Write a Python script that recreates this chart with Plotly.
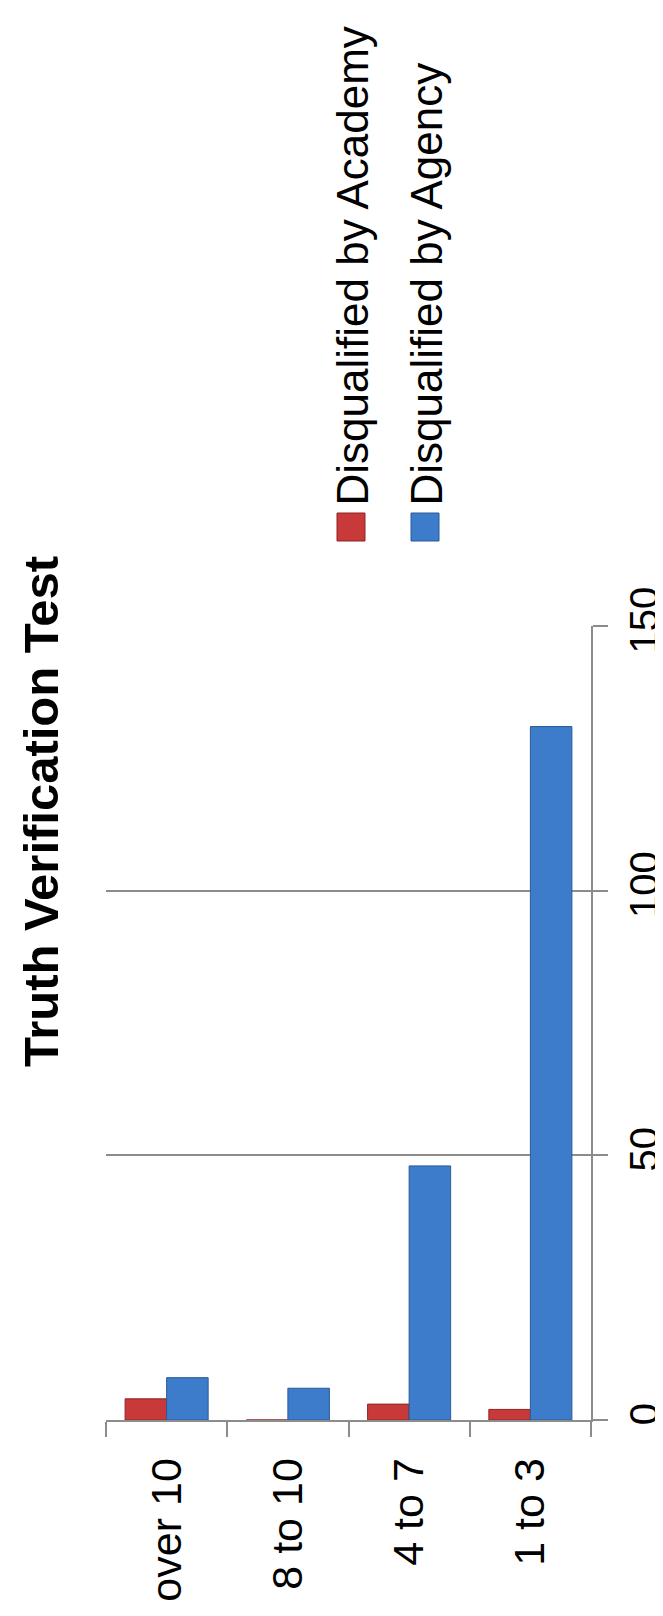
import plotly.graph_objects as go

categories = ["over 10", "8 to 10", "4 to 7", "1 to 3"]
academy = [4, 0, 3, 2]
agency = [8, 6, 48, 131]
value_ticks = [0, 50, 100, 150]
series_names = ["Disqualified by Academy", "Disqualified by Agency"]
title_text = "Truth Verification Test"

W, H = 663, 1616
L, R, T, B = 98, 80, 618, 204
plot_w = W - L - R
plot_h = H - T - B


def px_x(px):
    return (px - L) / plot_w


def px_y(py):
    return (H - B - py) / plot_h


RED = "#C83A3A"
RED_EDGE = "#8E2424"
BLUE = "#3D7CCB"
BLUE_EDGE = "#2A5A97"
GRID = "#8C8C8C"
FONT = "Liberation Sans"

fig = go.Figure()
fig.add_bar(x=categories, y=academy, name=series_names[0],
            marker=dict(color=RED, line=dict(color=RED_EDGE, width=1)))
fig.add_bar(x=categories, y=agency, name=series_names[1],
            marker=dict(color=BLUE, line=dict(color=BLUE_EDGE, width=1)))

fig.update_layout(
    width=W, height=H,
    margin=dict(l=L, r=R, t=T, b=B, autoexpand=False),
    paper_bgcolor="white", plot_bgcolor="white",
    barmode="group", bargap=0.315, bargroupgap=0,
    showlegend=False,
    font=dict(family=FONT, color="black"),
)

fig.update_xaxes(
    type="category", range=[-0.5, 3.5],
    showline=True, linecolor=GRID, linewidth=2,
    ticks="outside", ticklen=15, tickcolor=GRID, tickwidth=2,
    tickson="boundaries", tickangle=-90,
    tickfont=dict(size=43, family=FONT, color="black"),
    ticklabelstandoff=19, showgrid=False,
)
fig.update_yaxes(
    range=[0, 150], side="right", tickvals=value_ticks,
    showline=True, linecolor=GRID, linewidth=2,
    ticks="outside", ticklen=15, tickcolor=GRID, tickwidth=2,
    showgrid=True, gridcolor=GRID, gridwidth=1.5, zeroline=False,
    tickangle=-90, tickfont=dict(size=40, family=FONT, color="black"),
    ticklabelstandoff=2,
)

annotations = [
    dict(text="<b>" + title_text + "</b>", x=px_x(33), y=px_y(804),
         xref="paper", yref="paper", showarrow=False, textangle=-90,
         xanchor="center", yanchor="middle",
         font=dict(size=49, family=FONT, color="black")),
]
shapes = []
legend_x = [343, 417]
legend_colors = [(RED, RED_EDGE), (BLUE, BLUE_EDGE)]
for name, cx, (fc, lc) in zip(series_names, legend_x, legend_colors):
    annotations.append(dict(text=name, x=px_x(cx + 1), y=px_y(500),
                            xref="paper", yref="paper", showarrow=False,
                            textangle=-90, xanchor="center", yanchor="bottom",
                            font=dict(size=44, family=FONT, color="black")))
    shapes.append(dict(type="rect", xref="paper", yref="paper",
                       x0=px_x(cx - 14), x1=px_x(cx + 14),
                       y0=px_y(533), y1=px_y(505),
                       fillcolor=fc, line=dict(color=lc, width=1)))

fig.update_layout(annotations=annotations, shapes=shapes)
fig.write_html("out.html")
